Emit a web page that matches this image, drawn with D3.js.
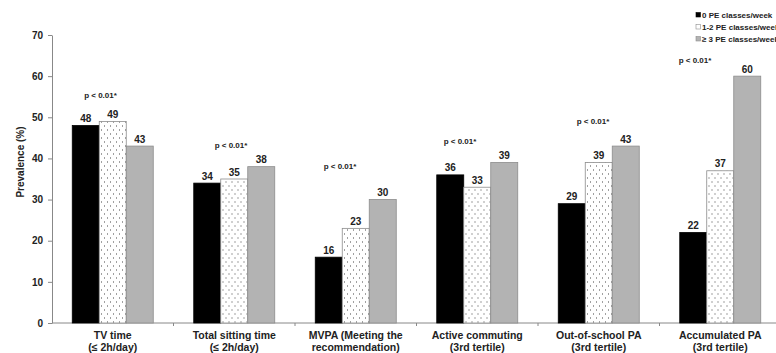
<!DOCTYPE html>
<html>
<head>
<meta charset="utf-8">
<script src="https://cdn.jsdelivr.net/npm/d3@7"></script>
<style>
  body { margin: 0; background: #fff; }
  text { font-family: "Liberation Sans", Arial, sans-serif; font-weight: bold; fill: #222; }
</style>
</head>
<body>
<div id="chart"></div>
<script>
const categories = [
  ["TV time", "(≤ 2h/day)"],
  ["Total sitting time", "(≤ 2h/day)"],
  ["MVPA (Meeting the", "recommendation)"],
  ["Active commuting", "(3rd tertile)"],
  ["Out-of-school PA", "(3rd tertile)"],
  ["Accumulated PA", "(3rd tertile)"]
];
const seriesNames = ["0 PE classes/week", "1-2 PE classes/week", "≥ 3 PE classes/week"];
const noPE = [48, 34, 16, 36, 29, 22];
const onePE = [49, 35, 23, 33, 39, 37];
const threePE = [43, 38, 30, 39, 43, 60];
const pLabels = ["p < 0.01*", "p < 0.01*", "p < 0.01*", "p < 0.01*", "p < 0.01*", "p < 0.01*"];
const yTicks = [0, 10, 20, 30, 40, 50, 60, 70];

const width = 776, height = 353,
  margin = ({ top: 35, right: -5, bottom: 30, left: 52 });

const svg = d3.select("#chart")
  .append("svg")
  .attr("width", width)
  .attr("height", height);

// dotted fill for the middle series
const defs = svg.append("defs");
const pat = defs.append("pattern")
  .attr("id", "dots")
  .attr("patternUnits", "userSpaceOnUse")
  .attr("width", 6)
  .attr("height", 8);
pat.append("rect").attr("width", 6).attr("height", 8).attr("fill", "#fff");
pat.append("rect").attr("x", 1).attr("y", 1.5).attr("width", 1).attr("height", 1).attr("fill", "#444");
pat.append("rect").attr("x", 4).attr("y", 5.5).attr("width", 1).attr("height", 1).attr("fill", "#444");

const fills = ["#000", "url(#dots)", "#b3b3b3"];
const strokes = ["#000", "#8c8c8c", "#8c8c8c"];

const catIdx = d3.range(categories.length);

let x0 = d3.scaleBand()
  .domain(catIdx)
  .range([margin.left, 781]);

let bw = x0.bandwidth();
let x1 = d3.scaleBand()
  .domain([0, 1, 2])
  .range([bw / 6, bw * 5 / 6]);

let y = d3.scaleLinear()
  .domain([0, 70])
  .range([height - margin.bottom, margin.top]);

// y axis
const yAxis = svg.append("g")
  .attr("transform", `translate(${margin.left},0)`)
  .call(d3.axisLeft(y).tickValues(yTicks).tickSize(4).tickPadding(5).tickSizeOuter(0));
yAxis.selectAll("text").style("font-size", "10px");
yAxis.select(".domain").attr("stroke", "#888");
yAxis.selectAll(".tick line").attr("stroke", "#888");

// x axis with ticks at category boundaries
const xAxis = svg.append("g")
  .attr("transform", `translate(0,${y(0)})`);
xAxis.append("line")
  .attr("x1", margin.left).attr("x2", width)
  .attr("stroke", "#888");
xAxis.selectAll(".sep")
  .data(catIdx.slice(1))
  .join("line")
  .attr("x1", d => x0(d)).attr("x2", d => x0(d))
  .attr("y1", 0).attr("y2", 3)
  .attr("stroke", "#888");

const labels = xAxis.selectAll(".cat")
  .data(categories)
  .join("text")
  .attr("text-anchor", "middle")
  .style("font-size", "10.5px")
  .attr("x", (d, i) => x0(i) + bw / 2);
labels.append("tspan").attr("y", 16).text(d => d[0]);
labels.append("tspan").attr("x", (d, i) => x0(i) + bw / 2).attr("y", 28).text(d => d[1]);

// bars
const allSeries = [noPE, onePE, threePE];
const groups = svg.append("g")
  .selectAll("g")
  .data(catIdx)
  .join("g")
  .attr("transform", i => `translate(${x0(i)},0)`);

groups.selectAll("rect")
  .data(i => allSeries.map((s, k) => ({ k, v: s[i] })))
  .join("rect")
  .attr("x", d => x1(d.k))
  .attr("width", x1.bandwidth())
  .attr("y", d => y(d.v))
  .attr("height", d => y(0) - y(d.v))
  .attr("fill", d => fills[d.k])
  .attr("stroke", d => strokes[d.k])
  .attr("stroke-width", 0.8);

groups.selectAll(".val")
  .data(i => allSeries.map((s, k) => ({ k, v: s[i] })))
  .join("text")
  .attr("text-anchor", "middle")
  .style("font-size", "10px")
  .attr("x", d => x1(d.k) + x1.bandwidth() / 2)
  .attr("y", d => y(d.v) - 3.5)
  .text(d => d.v);

// p-value notes: x offset within the group, y in data units
const pPlace = [[48.5, 55.5], [57.5, 43.2], [45, 38.2], [43.5, 44.3], [55, 49], [35.5, 64]];
groups.append("text")
  .attr("text-anchor", "middle")
  .style("font-size", "8px")
  .attr("x", i => pPlace[i][0])
  .attr("y", i => y(pPlace[i][1]) + 3)
  .text(i => pLabels[i]);

// y label
svg.append("text")
  .attr("text-anchor", "middle")
  .attr("transform", `translate(24,162) rotate(-90)`)
  .style("font-size", "10px")
  .text("Prevalence (%)");

// legend (cut at the right edge, as in the source)
const legend = svg.append("g")
  .attr("transform", "translate(696,0)");
const li = legend.selectAll("g")
  .data(seriesNames)
  .join("g")
  .attr("transform", (d, i) => `translate(0,${15 + i * 12})`);
li.append("rect")
  .attr("x", 0).attr("y", -2.5)
  .attr("width", 4.5).attr("height", 4.5)
  .attr("fill", (d, i) => i == 1 ? "#fff" : fills[i])
  .attr("stroke", (d, i) => strokes[i])
  .attr("stroke-width", 0.6);
li.append("text")
  .attr("x", 6)
  .attr("y", 2.8)
  .style("font-size", "8px")
  .text(d => d);
</script>
</body>
</html>
